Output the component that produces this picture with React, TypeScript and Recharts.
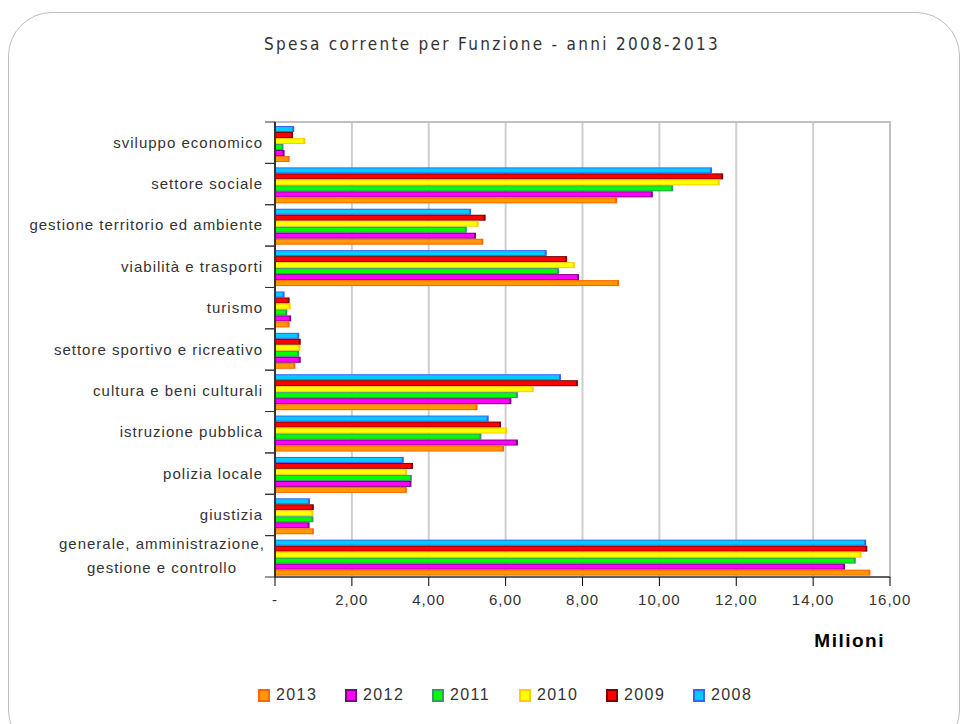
import React from 'react';
import {
  BarChart,
  Bar,
  XAxis,
  YAxis,
  CartesianGrid,
  ReferenceArea,
  Label,
} from 'recharts';

const CATEGORIES = [
  'generale, amministrazione,|gestione e controllo',
  'giustizia',
  'polizia locale',
  'istruzione pubblica',
  'cultura e beni culturali',
  'settore sportivo e ricreativo',
  'turismo',
  'viabilità e trasporti',
  'gestione territorio ed ambiente',
  'settore sociale',
  'sviluppo economico',
];

const V2008 = [15.38, 0.91, 3.35, 5.56, 7.44, 0.63, 0.25, 7.07, 5.1, 11.37, 0.5];
const V2009 = [15.41, 1.01, 3.59, 5.88, 7.88, 0.67, 0.38, 7.6, 5.48, 11.66, 0.47];
const V2010 = [15.26, 1.0, 3.44, 6.04, 6.73, 0.66, 0.41, 7.8, 5.3, 11.57, 0.79];
const V2011 = [15.11, 1.0, 3.56, 5.37, 6.32, 0.63, 0.32, 7.39, 4.99, 10.36, 0.22];
const V2012 = [14.83, 0.9, 3.55, 6.32, 6.15, 0.67, 0.42, 7.91, 5.23, 9.83, 0.25];
const V2013 = [15.49, 1.01, 3.43, 5.96, 5.27, 0.53, 0.38, 8.95, 5.42, 8.9, 0.38];

// bar order top -> bottom inside a group
const YEARS = ['2008', '2009', '2010', '2011', '2012', '2013'];
const SERIES = [V2008, V2009, V2010, V2011, V2012, V2013];
// legend order
const LEGEND_YEARS = ['2013', '2012', '2011', '2010', '2009', '2008'];

const X_TICKS = [0, 2, 4, 6, 8, 10, 12, 14, 16];

const FACE: Record<string, string> = {
  '2008': '#00CCFF',
  '2009': '#FF0000',
  '2010': '#FFFF00',
  '2011': '#00FF00',
  '2012': '#FF00FF',
  '2013': '#FF9900',
};
const EDGE: Record<string, string> = {
  '2008': '#3366FF',
  '2009': '#800000',
  '2010': '#FFCC00',
  '2011': '#339966',
  '2012': '#800080',
  '2013': '#FF6600',
};

const data = CATEGORIES.map((name, i) => {
  const row: Record<string, string | number> = { name };
  YEARS.forEach((y, k) => {
    row[y] = SERIES[k][i];
  });
  return row;
});

const W = 967;
const H = 724;
const TOP = 122;
const XAXIS_H = 75;
const BOTTOM = 72;
const PLOT_H = H - TOP - BOTTOM - XAXIS_H;
const HALF_BAND = PLOT_H / CATEGORIES.length / 2;

const FONT = '"Liberation Sans", Arial, sans-serif';

const fmt = (v: number) => (v === 0 ? '-' : v.toFixed(2).replace('.', ','));

function barShape(year: string) {
  return (props: any) => {
    const { x, y, width, height } = props;
    if (!width || width <= 0) return <g />;
    return (
      <g>
        <rect x={x} y={y} width={width} height={height} fill={EDGE[year]} />
        <rect
          x={x}
          y={y + 1}
          width={Math.max(0, width - 2)}
          height={Math.max(0, height - 2)}
          fill={FACE[year]}
        />
      </g>
    );
  };
}

function CategoryTick(props: any) {
  const { x, y, payload } = props;
  const lines = String(payload.value).split('|');
  return (
    <g>
      <line x1={x - 10} x2={x} y1={y - HALF_BAND} y2={y - HALF_BAND} stroke="#333" />
      <line x1={x - 10} x2={x} y1={y + HALF_BAND} y2={y + HALF_BAND} stroke="#333" />
      {lines.length === 1 ? (
        <text
          x={x - 12}
          y={y}
          dy={5}
          textAnchor="end"
          fill="#333"
          fontSize={15}
          letterSpacing={1}
          fontFamily={FONT}
        >
          {lines[0]}
        </text>
      ) : (
        <text
          x={x - 12 - 101}
          y={y}
          textAnchor="middle"
          fill="#333"
          fontSize={15}
          letterSpacing={1}
          fontFamily={FONT}
        >
          {lines.map((l, i) => (
            <tspan key={i} x={x - 12 - 101} dy={i === 0 ? -7 : 24}>
              {l}
            </tspan>
          ))}
        </text>
      )}
    </g>
  );
}

export default function App() {
  return (
    <div
      style={{
        position: 'absolute',
        left: 0,
        top: 0,
        width: W,
        height: H,
        overflow: 'hidden',
        background: '#fff',
        fontFamily: FONT,
      }}
    >
      <div
        style={{
          position: 'absolute',
          left: 8,
          top: 12,
          width: 950,
          height: 740,
          border: '1px solid #bdbdbd',
          borderRadius: 44,
        }}
      />
      <div
        style={{
          position: 'absolute',
          top: 34,
          left: 17,
          width: 950,
          textAlign: 'center',
          fontSize: 17,
          letterSpacing: 2.3,
          color: '#333',
          fontFamily: '"DejaVu Sans Condensed", "DejaVu Sans", sans-serif',
        }}
      >
        Spesa corrente per Funzione - anni 2008-2013
      </div>
      <BarChart
        width={W}
        height={H}
        data={data}
        layout="vertical"
        margin={{ top: TOP, right: 77, bottom: BOTTOM, left: 0 }}
        barCategoryGap={4}
        barGap={0}
        style={{ position: 'absolute', left: 0, top: 0 }}
      >
        <CartesianGrid horizontal={false} stroke="#cfcfcf" strokeWidth={2} />
        <ReferenceArea
          x1={0}
          x2={16}
          fill="none"
          stroke="#c0c0c0"
          strokeWidth={2}
        />
        <XAxis
          type="number"
          domain={[0, 16]}
          ticks={X_TICKS}
          tickFormatter={fmt}
          height={XAXIS_H}
          axisLine={{ stroke: '#000' }}
          tickLine={{ stroke: '#000' }}
          tickSize={9}
          tickMargin={8}
          tick={{ fill: '#333', fontSize: 15, letterSpacing: 1, fontFamily: FONT }}
        >
          <Label
            value="Milioni"
            position="insideBottomRight"
            offset={5}
            fill="#000"
            fontSize={19}
            fontWeight="bold"
            letterSpacing={1.5}
            fontFamily={FONT}
          />
        </XAxis>
        <YAxis
          type="category"
          dataKey="name"
          reversed
          width={275}
          axisLine={{ stroke: '#333', strokeWidth: 2 }}
          tickLine={false}
          tickSize={0}
          tickMargin={0}
          interval={0}
          tick={<CategoryTick />}
        />
        {YEARS.map((y) => (
          <Bar
            key={y}
            dataKey={y}
            fill={FACE[y]}
            shape={barShape(y)}
            isAnimationActive={false}
          />
        ))}
      </BarChart>
      <div
        style={{
          position: 'absolute',
          top: 686,
          left: 258,
          display: 'flex',
          alignItems: 'center',
          fontSize: 16,
          letterSpacing: 1.4,
          color: '#333',
        }}
      >
        {LEGEND_YEARS.map((y) => (
          <div
            key={y}
            style={{ display: 'flex', alignItems: 'center', width: 87 }}
          >
            <span
              style={{
                display: 'inline-block',
                width: 8,
                height: 9,
                border: `2px solid ${EDGE[y]}`,
                background: FACE[y],
                marginRight: 6,
              }}
            />
            <span>{y}</span>
          </div>
        ))}
      </div>
    </div>
  );
}
